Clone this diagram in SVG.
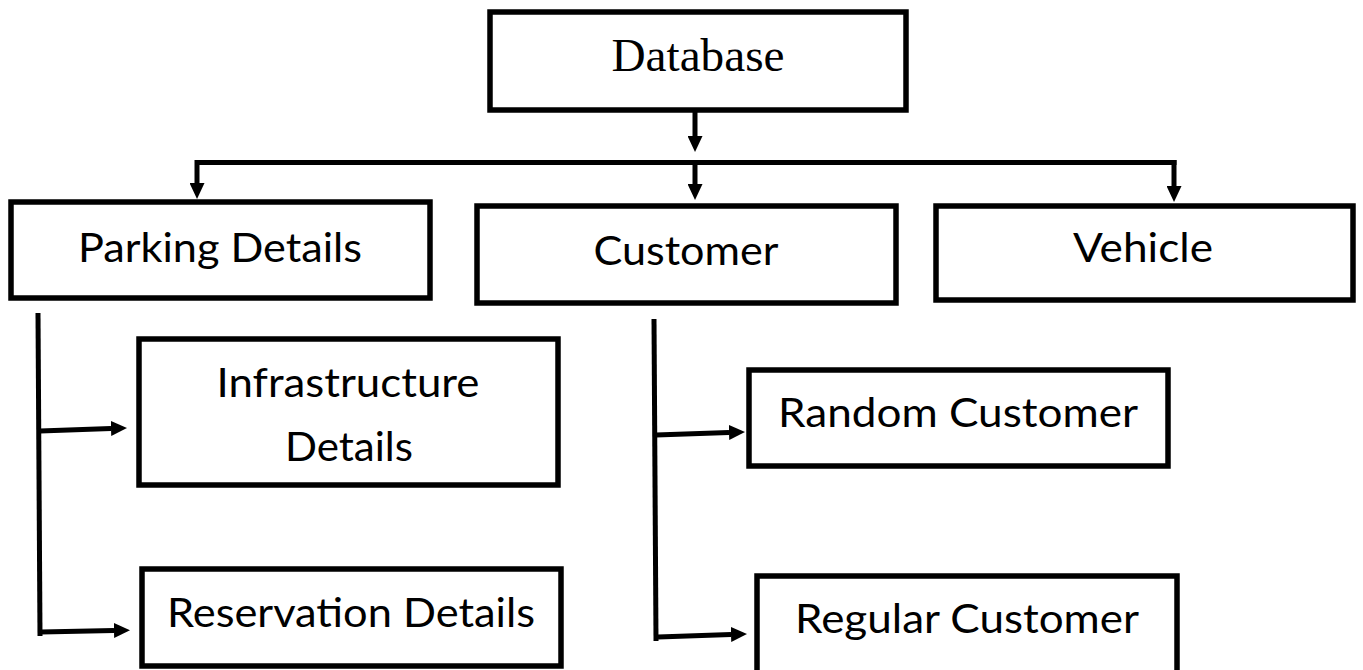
<svg xmlns="http://www.w3.org/2000/svg" width="1363" height="670" viewBox="0 0 1363 670">
<style>
.box{fill:#fff;stroke:#000;stroke-width:5.5}
.lbl{font-family:Lato,"Liberation Sans",sans-serif;font-size:40px;fill:#000;text-anchor:middle}
.ser{font-family:"Liberation Serif",serif;font-size:47px;fill:#000;text-anchor:middle}
.con{fill:none;stroke:#000;stroke-width:5}
</style>
<defs>
<marker id="ah" markerUnits="userSpaceOnUse" markerWidth="16" markerHeight="15" viewBox="0 0 16 15" refX="0" refY="7.5" orient="auto">
<path d="M0,0 L16,7.5 L0,15 z" fill="#000"/>
</marker>
</defs>
<rect width="1363" height="670" fill="#fff"/>
<g id="connectors">
<line class="con" x1="695" y1="111" x2="695" y2="136" marker-end="url(#ah)"/>
<line class="con" x1="195" y1="162.5" x2="1176.5" y2="162.5"/>
<line class="con" x1="197" y1="160" x2="197" y2="183" marker-end="url(#ah)"/>
<line class="con" x1="695" y1="160" x2="695" y2="184" marker-end="url(#ah)"/>
<line class="con" x1="1174" y1="160" x2="1174" y2="186" marker-end="url(#ah)"/>
<line class="con" x1="38" y1="313" x2="40" y2="636"/>
<line class="con" x1="40" y1="431" x2="111" y2="428.5" marker-end="url(#ah)"/>
<line class="con" x1="41" y1="632" x2="114" y2="630.5" marker-end="url(#ah)"/>
<line class="con" x1="654" y1="319" x2="656" y2="641"/>
<line class="con" x1="656" y1="435" x2="729" y2="432.5" marker-end="url(#ah)"/>
<line class="con" x1="658" y1="637" x2="731" y2="634.5" marker-end="url(#ah)"/>
</g>
<g id="database">
<rect class="box" x="490" y="12" width="416" height="98"/>
<text class="ser" x="698" y="71" textLength="173" lengthAdjust="spacingAndGlyphs">Database</text>
</g>
<g id="parking-details">
<rect class="box" x="11" y="202" width="419" height="96"/>
<text class="lbl" x="220" y="262" textLength="284" lengthAdjust="spacingAndGlyphs">Parking Details</text>
</g>
<g id="customer">
<rect class="box" x="477" y="206" width="419" height="97"/>
<text class="lbl" x="686" y="265" textLength="185" lengthAdjust="spacingAndGlyphs">Customer</text>
</g>
<g id="vehicle">
<rect class="box" x="936" y="206" width="417" height="94"/>
<text class="lbl" x="1143" y="262" textLength="140" lengthAdjust="spacingAndGlyphs">Vehicle</text>
</g>
<g id="infrastructure-details">
<rect class="box" x="139" y="339" width="419" height="146"/>
<text class="lbl" x="348" y="397" textLength="263" lengthAdjust="spacingAndGlyphs">Infrastructure</text>
<text class="lbl" x="349" y="461" textLength="128" lengthAdjust="spacingAndGlyphs">Details</text>
</g>
<g id="reservation-details">
<rect class="box" x="142" y="569" width="419" height="97"/>
<text class="lbl" x="351" y="627" textLength="368" lengthAdjust="spacingAndGlyphs">Reservation Details</text>
</g>
<g id="random-customer">
<rect class="box" x="749" y="370" width="419" height="96"/>
<text class="lbl" x="958" y="427" textLength="360" lengthAdjust="spacingAndGlyphs">Random Customer</text>
</g>
<g id="regular-customer">
<rect class="box" x="757" y="576" width="420" height="98"/>
<text class="lbl" x="967" y="633" textLength="344" lengthAdjust="spacingAndGlyphs">Regular Customer</text>
</g>
</svg>
